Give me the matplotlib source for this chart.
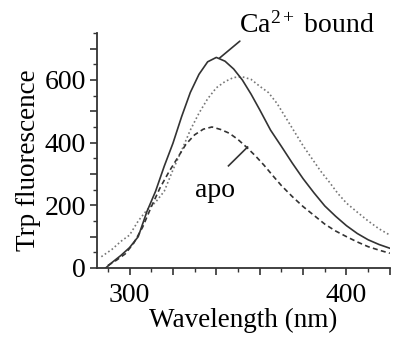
import matplotlib
matplotlib.use("Agg")
import matplotlib.pyplot as plt
from matplotlib.ticker import MultipleLocator, FuncFormatter

plt.rcParams['font.family'] = ['Liberation Serif', 'DejaVu Serif']
plt.rcParams['mathtext.fontset'] = 'custom'
plt.rcParams['mathtext.rm'] = 'Liberation Serif'
plt.rcParams['mathtext.it'] = 'Liberation Serif:italic'

# Ca2+ bound (solid)
wl_ca = [289, 292, 296, 300, 304, 308, 312, 316, 320, 324, 328, 332, 336, 340, 344, 348, 352, 356,
         360, 365, 370, 375, 380, 385, 390, 395, 400, 405, 410, 415, 420]
fl_ca = [0, 18, 40, 65, 100, 180, 245, 325, 398, 483, 560, 618, 658, 672, 660, 635, 600, 555,
         505, 440, 388, 335, 285, 240, 198, 165, 135, 110, 90, 75, 63]

# dotted
wl_dot = [287, 292, 296, 300, 304, 308, 312, 316, 320, 324, 328, 332, 336, 340, 344, 348, 352, 356,
          360, 364, 368, 372, 376, 380, 384, 388, 392, 396, 400, 405, 410, 415, 420]
fl_dot = [36, 60, 85, 105, 150, 185, 210, 245, 313, 375, 440, 494, 540, 575, 595, 608, 610, 602,
          580, 560, 525, 480, 435, 390, 350, 310, 275, 238, 207, 178, 150, 125, 105]

# apo (dashed)
wl_apo = [290, 294, 298, 302, 306, 310, 314, 318, 322, 326, 330, 334, 338, 342, 346, 350, 354, 358,
          362, 366, 370, 375, 380, 385, 390, 395, 400, 405, 410, 415, 420]
fl_apo = [8, 25, 45, 80, 130, 195, 255, 305, 350, 395, 425, 443, 450, 442, 430, 410, 385, 358,
          328, 295, 263, 228, 196, 168, 140, 118, 100, 83, 68, 57, 47]

xticks_labeled = [300, 400]
yticks_labeled = [0, 200, 400, 600]

fig = plt.figure(figsize=(3.95, 3.4), dpi=100)
ax = fig.add_axes([0.2456, 0.2118, 0.987 - 0.2456, 0.903 - 0.2118])

ax.plot(wl_dot, fl_dot, color='#777777', lw=1.2, ls=(0, (1, 1.5)))
ax.plot(wl_apo, fl_apo, color='#333333', lw=1.2, ls=(0, (3, 2)))
ax.plot(wl_ca, fl_ca, color='#333333', lw=1.2, ls='-')

ax.set_xlim(285, 420)
ax.set_ylim(0, 750)

ax.spines['top'].set_visible(False)
ax.spines['right'].set_visible(False)
for s in ['left', 'bottom']:
    ax.spines[s].set_linewidth(1.3)
    ax.spines[s].set_color('#333333')

ax.xaxis.set_major_locator(MultipleLocator(20))
ax.xaxis.set_minor_locator(MultipleLocator(10))
ax.xaxis.set_major_formatter(FuncFormatter(lambda v, p: f"{int(round(v))}" if int(round(v)) in xticks_labeled else ""))
ax.yaxis.set_major_locator(MultipleLocator(100))
ax.yaxis.set_minor_locator(MultipleLocator(50))
ax.yaxis.set_major_formatter(FuncFormatter(lambda v, p: f"{int(round(v))}" if int(round(v)) in yticks_labeled else ""))

ax.tick_params(which='major', length=5, width=1.2, labelsize=20, pad=3, color='#333333')
ax.tick_params(axis='x', which='major', pad=6)
ax.tick_params(which='minor', length=3, width=1.0, color='#333333')

ax.set_xlabel('Wavelength (nm)', fontsize=19.5)
ax.xaxis.set_label_coords(0.5, -0.17)
ax.set_ylabel('Trp fluorescence', fontsize=19.5)
ax.yaxis.set_label_coords(-0.19, 0.46)

# annotations
ax.annotate('Ca$^{2+}$ bound', xy=(341.5, 670), xytext=(350.5, 752),
            fontsize=20, ha='left', va='baseline', annotation_clip=False,
            arrowprops=dict(arrowstyle='-', color='#333333', lw=1.2, shrinkA=0, shrinkB=0,
                            relpos=(0.03, 0)))
ax.plot([345.6, 354.4], [326, 386], color='#333333', lw=1.2)
ax.text(339.5, 248, 'apo', fontsize=20, ha='center', va='center')

fig.savefig('out.png', dpi=100)
